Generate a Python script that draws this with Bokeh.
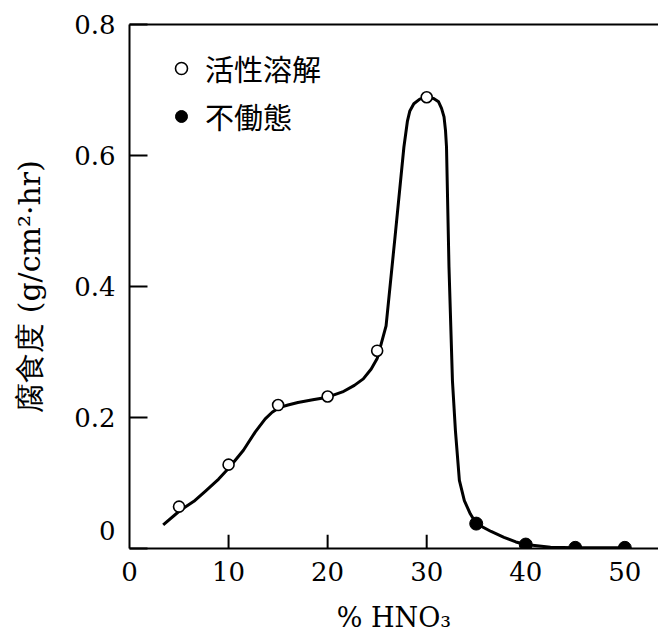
from bokeh.plotting import figure
from bokeh.models import (Range1d, FixedTicker, LinearAxis, Legend, LegendItem)
from bokeh.embed import file_html
from bokeh.resources import INLINE

# ---- data ----
active_x = [5, 10, 15, 20, 25, 30]
active_y = [0.064, 0.128, 0.219, 0.232, 0.302, 0.689]
passive_x = [35, 40, 45, 50]
passive_y = [0.038, 0.006, 0.001, 0.001]

curve_x = [3.4, 5.1, 6.5, 7.7, 9.0, 10.1, 11.5, 12.7, 13.7, 14.4, 15.1, 16.0, 17.0,
           18.5, 20.0, 21.5, 22.7, 23.6, 24.4, 25.0, 25.4, 25.9, 26.8, 27.7, 28.05,
           28.3, 28.7, 29.3, 30.0, 30.7, 31.2, 31.5, 31.75, 31.9, 32.0, 32.25, 32.6,
           32.9, 33.3, 33.8, 34.4, 35.0, 36.5, 37.8, 39.0, 40.0, 42.5, 45.0, 50.0]
curve_y = [0.036, 0.058, 0.072, 0.088, 0.106, 0.124, 0.150, 0.178, 0.198, 0.208,
           0.215, 0.219, 0.223, 0.227, 0.231, 0.239, 0.249, 0.259, 0.274, 0.290,
           0.312, 0.340, 0.475, 0.613, 0.652, 0.668, 0.679, 0.686, 0.689, 0.687,
           0.682, 0.672, 0.659, 0.638, 0.613, 0.43, 0.256, 0.18, 0.104, 0.073,
           0.053, 0.038, 0.026, 0.017, 0.010, 0.006, 0.002, 0.001, 0.001]

x_ticks = [0, 10, 20, 30, 40, 50]
x_tick_marks = [10, 20, 30]
y_ticks = [0, 0.2, 0.4, 0.6, 0.8]
y_tick_labels = {0: "0\n", 0.2: "0.2", 0.4: "0.4", 0.6: "0.6", 0.8: "0.8"}

legend_labels = ["活性溶解", "不働態"]
x_title = "% HNO₃"
y_title = "腐食度 (g/cm²·hr)"

SERIF = "DejaVu Serif"

p = figure(width=658, height=638, output_backend="svg", toolbar_location=None,
           x_range=Range1d(0, 53.4), y_range=Range1d(0, 0.8),
           min_border_left=129, min_border_right=0, min_border_top=24,
           min_border_bottom=90)
p.outline_line_color = None
p.grid.visible = False
p.background_fill_color = "white"
p.border_fill_color = "white"

# axes
p.xaxis.ticker = FixedTicker(ticks=x_ticks)
p.xaxis.major_tick_in = 0
p.xaxis.major_tick_out = 0
p.xaxis.minor_tick_line_color = None
p.xaxis.major_label_standoff = 13
p.xaxis.major_label_text_font = SERIF
p.xaxis.major_label_text_font_size = "26px"
p.xaxis.major_label_text_color = "black"
p.xaxis.axis_label = x_title
p.xaxis.axis_label_text_font = SERIF
p.xaxis.axis_label_text_font_size = "27px"
p.xaxis.axis_label_text_font_style = "normal"
p.xaxis.axis_label_standoff = 18
p.xaxis.axis_label_text_color = "black"

p.yaxis.ticker = FixedTicker(ticks=y_ticks)
p.yaxis.major_label_overrides = y_tick_labels
p.yaxis.major_tick_in = 18
p.yaxis.major_tick_out = 0
p.yaxis.minor_tick_line_color = None
p.yaxis.major_label_standoff = 14
p.yaxis.major_label_text_font = SERIF
p.yaxis.major_label_text_font_size = "26px"
p.yaxis.major_label_text_color = "black"
p.yaxis.axis_label = y_title
p.yaxis.axis_label_text_font = SERIF
p.yaxis.axis_label_text_font_size = "30px"
p.yaxis.axis_label_text_font_style = "normal"
p.yaxis.axis_label_standoff = 24
p.yaxis.axis_label_text_color = "black"

for ax in (p.xaxis, p.yaxis):
    ax.axis_line_width = 2
    ax.axis_line_color = "black"
    ax.major_tick_line_width = 2
    ax.major_tick_line_color = "black"

top = LinearAxis(ticker=FixedTicker(ticks=[]), major_label_text_font_size="0px",
                 axis_line_width=2, axis_line_color="black",
                 major_tick_line_color=None, minor_tick_line_color=None)
p.add_layout(top, "above")

# x tick marks (inward, only at 10/20/30)
p.segment(x0=x_tick_marks, y0=[0] * len(x_tick_marks), x1=x_tick_marks,
          y1=[0.021] * len(x_tick_marks), line_color="black", line_width=2)

# curve
p.line(curve_x, curve_y, line_color="black", line_width=3, line_join="round")

r_active = p.scatter(active_x, active_y, marker="circle", size=11,
                     fill_color="white", line_color="black", line_width=1.6)
r_passive = p.scatter(passive_x, passive_y, marker="circle", size=13,
                      fill_color="black", line_color="black")

legend = Legend(items=[LegendItem(label=legend_labels[0], renderers=[r_active]),
                       LegendItem(label=legend_labels[1], renderers=[r_passive])],
                location=(30, 411), margin=0, padding=0,
                glyph_width=44, glyph_height=30, label_height=30,
                spacing=6, label_standoff=2,
                border_line_color=None, background_fill_alpha=0,
                label_text_font="Noto Sans CJK JP",
                label_text_font_size="29px", label_text_color="black")
p.add_layout(legend)

open("out.html", "w").write(file_html(p, INLINE))
